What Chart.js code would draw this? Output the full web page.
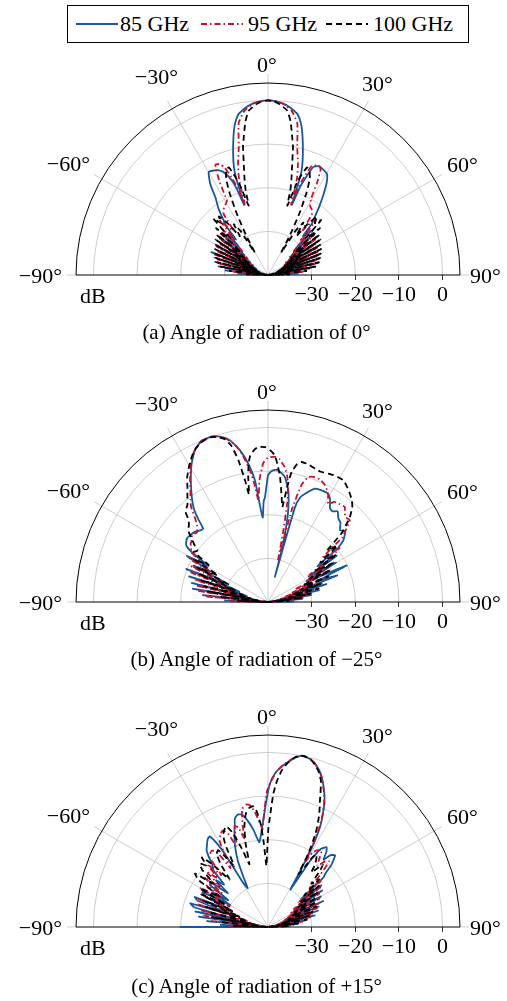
<!DOCTYPE html>
<html>
<head>
<meta charset="utf-8">
<script src="https://cdn.jsdelivr.net/npm/chart.js@4.4.1/dist/chart.umd.min.js"></script>
<style>
  html, body { margin: 0; padding: 0; background: #fff; }
  body { width: 507px; height: 1001px; position: relative; overflow: hidden;
         font-family: "Liberation Serif", "Times New Roman", serif; color: #000; }
  canvas { position: absolute; left: 0; }
  #legend { position: absolute; left: 67px; top: 5px; width: 402px; height: 38px;
            border: 1px solid #000; box-sizing: border-box; }
  #legend svg { position: absolute; left: 0; top: 0; }
  #legend span { position: absolute; top: 5px; font-size: 22px; line-height: 25px; white-space: nowrap; }
  .caption { position: absolute; left: 0; width: 513px; text-align: center;
             font-size: 21px; line-height: 24px; white-space: nowrap; }
</style>
</head>
<body>
<div id="legend"></div>
<canvas id="plotA" width="507" height="300"></canvas>
<canvas id="plotB" width="507" height="300"></canvas>
<canvas id="plotC" width="507" height="300"></canvas>
<div class="caption" id="capA"></div>
<div class="caption" id="capB"></div>
<div class="caption" id="capC"></div>
<script>
// ---- radial axis (dB) and angular axis (degrees) ----
const DB_MIN = -40;   // level at the pole
const DB_RIM = 4;     // level at the outer rim
const dbTicks = [-30, -20, -10, 0];
const angleTicks = [-90, -60, -30, 0, 30, 60, 90];
const seriesNames = ['85 GHz', '95 GHz', '100 GHz'];
const captions = ['(a) Angle of radiation of 0°', '(b) Angle of radiation of −25°', '(c) Angle of radiation of +15°'];

// ---- radiation patterns: [angle in degrees, gain in dB] ----
// (a) steered to 0°
const radA_85 = [[-90,-40],[-88,-33],[-86,-40],[-84,-30],[-82,-40],[-80,-28.5],[-78,-39],[-76,-27.5],[-74,-38],[-72,-27],[-70,-38],[-68,-26],[-66,-37],[-64,-27],[-62,-37],[-60,-26.5],[-58,-36],[-56,-27],[-54,-35],[-52,-26],[-50,-33],[-48,-27],[-46,-31],[-44,-27],[-42,-29],[-40.5,-25],[-39.2,-24],[-36.8,-21.1],[-34.1,-18.5],[-32.4,-15.3],[-30,-12.8],[-27.5,-13],[-24.5,-13.7],[-22.5,-15],[-20.9,-16.9],[-19.8,-19.5],[-18.8,-23],[-18.2,-16.5],[-17.5,-14],[-16,-11],[-14,-7.3],[-12.3,-4.5],[-10.5,-2.6],[-9,-1.9],[-7,-1.1],[-5.3,-0.6],[-3,-0.2],[0,0],[3,-0.2],[5.3,-0.6],[7,-1.1],[9,-1.9],[10.5,-2.6],[12.3,-4.5],[14,-7.3],[16,-11],[17.5,-14],[18.2,-16.5],[18.8,-23],[20,-18.5],[21.5,-15.5],[22.7,-13.2],[25,-12.5],[27.5,-12.7],[30.3,-13.2],[32.5,-15],[34.5,-17.5],[36.5,-20],[38.5,-22.5],[40.5,-24.5],[42,-28],[44,-26],[46,-31],[48,-26.5],[50,-33],[52,-27],[54,-34],[56,-26],[58,-35],[60,-27],[62,-36],[64,-26.5],[66,-37],[68,-27],[70,-37],[72,-27.5],[74,-38],[76,-28],[78,-39],[80,-29],[82,-40],[84,-31],[86,-40],[88,-33],[90,-40]];
const radA_95 = [[-90,-40],[-89,-35],[-87,-40],[-85,-32],[-83,-40],[-81,-30],[-79,-39],[-77,-28.5],[-75,-38],[-73,-28],[-71,-38],[-69,-27],[-67,-37],[-65,-27.5],[-63,-36],[-61,-26.5],[-59,-36],[-57,-27],[-55,-35],[-53,-26],[-51,-34],[-49,-25.5],[-47,-32],[-45,-25],[-43,-29],[-41.5,-23],[-40,-25.5],[-37.8,-27],[-36,-22.7],[-33,-21.5],[-30.5,-21],[-28.9,-20.5],[-27.5,-16],[-25.5,-12],[-23.5,-12.3],[-22,-13.5],[-20.5,-16],[-19.2,-19],[-18.1,-23],[-17.3,-19],[-16.5,-16.4],[-15,-13.5],[-12.9,-10],[-10.9,-4.5],[-8.2,-2],[-5,-0.6],[-2.5,-0.1],[0,0],[2.5,-0.1],[5,-0.6],[8.2,-2],[10.9,-4.5],[12.9,-10],[15,-13.5],[16.5,-16.4],[17.3,-19],[18.1,-23],[19.2,-18.5],[20.5,-15.5],[22,-13],[24.9,-12.4],[26.5,-13],[28,-16],[29.5,-20],[31.5,-21.5],[34,-22],[36,-23],[37.8,-27],[39.5,-24],[41.5,-23.5],[43,-29],[45,-25.5],[47,-32],[49,-26],[51,-34],[53,-26.5],[55,-35],[57,-27],[59,-36],[61,-27],[63,-36],[65,-27.5],[67,-37],[69,-28],[71,-38],[73,-28.5],[75,-38],[77,-29],[79,-39],[81,-30.5],[83,-40],[85,-32],[87,-40],[89,-35],[90,-40]];
const radA_100 = [[-90,-40],[-88,-35],[-86,-40],[-84,-31],[-82,-40],[-80,-29],[-78,-39],[-76,-28],[-74,-38],[-72,-27.5],[-70,-38],[-68,-27],[-66,-37],[-64,-26.5],[-62,-36],[-60,-26],[-58,-35],[-56,-25.5],[-54,-34],[-52,-25],[-50,-32],[-48,-24],[-46,-28],[-44,-22],[-42,-24],[-40,-22.5],[-38,-25],[-36,-29],[-34,-26],[-32,-28],[-30.5,-34],[-29,-30],[-27,-24.3],[-25,-19],[-23.5,-16],[-21.6,-14],[-19.9,-13.8],[-17.5,-18],[-15.6,-23.5],[-14.8,-20],[-13.8,-17.5],[-12.7,-15],[-11,-10],[-10,-8],[-8.4,-4.5],[-6.7,-2.1],[-4,-0.8],[-2,-0.2],[0,0],[2,-0.2],[4,-0.8],[6.7,-2.1],[8.4,-4.5],[10,-8],[11,-10],[12.7,-15],[13.8,-17.5],[14.8,-20],[15.6,-23.5],[17.5,-17.5],[19.9,-13.8],[21.6,-14.2],[23.5,-16],[25,-19],[27,-24],[29,-30],[30.5,-34],[32,-28],[34,-25.5],[36,-29],[38,-25],[40,-22.5],[42,-24],[44,-22.5],[46,-28],[48,-24],[50,-32],[52,-25],[54,-34],[56,-25.5],[58,-35],[60,-26],[62,-36],[64,-26.5],[66,-37],[68,-27],[70,-38],[72,-27.5],[74,-38],[76,-28],[78,-39],[80,-29],[82,-40],[84,-31],[86,-40],[88,-35],[90,-40]];

// (b) steered to -25°
const radB_85 = [[-90,-40],[-88,-30],[-86,-40],[-84,-25],[-82,-38],[-80,-22.5],[-78,-36],[-76,-22],[-74,-35],[-72,-21],[-70,-33],[-68,-19.8],[-66,-30],[-64,-21],[-62,-25],[-60.5,-18.6],[-59,-24],[-57,-19.5],[-55.3,-17.2],[-52,-16.4],[-49.5,-16.5],[-46,-16.8],[-43,-17.5],[-41.5,-17.6],[-40,-15],[-38.4,-12.6],[-36,-10.3],[-32.4,-7],[-28.9,-3.8],[-25.7,-1.4],[-22.3,0],[-18.2,0],[-15.5,-0.8],[-13.2,-2],[-10.5,-4.6],[-8.1,-8],[-6.1,-12],[-5.3,-15.8],[-3.6,-20.6],[-2.5,-17],[-1.6,-15.9],[0,-11],[1.5,-10],[3.7,-9.6],[6,-10.3],[7.7,-11.1],[10.3,-14],[12.1,-17.7],[13.4,-21.5],[14.8,-27.7],[15.3,-34],[15.6,-27],[15.9,-17.4],[17,-15],[18.9,-13.8],[22.5,-11.9],[25.7,-11.6],[29,-11.6],[31,-12.4],[33.6,-14.3],[35.5,-14.5],[37.5,-13.8],[40.2,-15],[42.5,-15.4],[45.1,-16.7],[47.5,-16],[50.7,-17.7],[52.5,-20],[54,-26],[56,-21],[58,-29],[60,-22],[62,-30],[65,-20.1],[67,-27],[69,-23],[71,-34],[73,-26],[75,-36],[77,-28],[79,-38],[81,-30],[83,-40],[85,-32],[87,-40],[89,-34],[90,-40]];
const radB_95 = [[-90,-40],[-89,-31],[-87,-40],[-85,-26],[-83,-37],[-81,-24],[-79,-35],[-77,-23],[-75,-34],[-73,-22.5],[-71,-32],[-69,-21],[-67,-29],[-65,-20.5],[-63,-26],[-61,-19.5],[-59,-22],[-57,-19],[-55,-18.5],[-53,-17.8],[-51,-17.5],[-48.5,-16.8],[-45.5,-17.2],[-43,-16.2],[-41,-14.5],[-39,-12],[-37,-10.5],[-35,-9],[-33,-7.2],[-31,-5.4],[-29,-3.6],[-27,-2.1],[-25,-1],[-23,-0.3],[-20,0],[-17,-0.3],[-14.5,-1.3],[-12,-3],[-10,-5.5],[-7.8,-9.5],[-6.5,-13],[-5.4,-16.6],[-4,-12],[-2,-8.2],[0,-6.9],[2.8,-6.7],[4.5,-7.1],[7,-8.8],[8.5,-10.5],[9.9,-13.3],[11,-17],[12.3,-24],[13.5,-30],[14.5,-18],[16,-12],[17.9,-9.9],[20,-9.5],[23,-9.5],[26,-10.2],[29,-11.6],[31.5,-13.6],[33.5,-12.5],[36,-12.2],[38.9,-12],[42.2,-13.7],[45,-13.5],[47,-15.5],[49,-17.5],[51,-24],[53,-19.5],[55,-23],[57,-29],[59,-23],[61,-30],[63,-24],[65,-33],[67,-26],[69,-34],[71,-27],[73,-36],[75,-29],[77,-37],[79,-30],[81,-38],[83,-32],[85,-40],[87,-34],[89,-40],[90,-40]];
const radB_100 = [[-90,-40],[-88,-33],[-86,-40],[-84,-29],[-82,-38],[-80,-26],[-78,-36],[-76,-25],[-74,-34],[-72,-24],[-70,-32],[-68,-23],[-66,-30],[-64,-22],[-62,-27],[-60,-20.5],[-58,-24],[-56,-19.5],[-54,-20],[-52,-18.5],[-50,-17],[-48,-15.3],[-46,-14.8],[-44,-13.8],[-42.5,-12],[-41,-11.5],[-39.5,-11],[-37,-9.3],[-35,-7.8],[-33,-6],[-31,-4.6],[-29,-3.2],[-27,-2],[-25,-1],[-23,-0.4],[-21,-0.1],[-19,0],[-17,-0.5],[-15,-1.3],[-13.2,-3.2],[-11.8,-6.8],[-10.7,-11.6],[-10,-15],[-9,-11],[-8,-8],[-7,-6.3],[-5,-4.9],[-3.6,-4.4],[-1,-4.5],[1,-5.3],[2.7,-6.4],[4,-8.5],[5.5,-11.2],[7.4,-15.7],[8.6,-18],[9.5,-13],[10.3,-9.7],[12,-7.6],[13.5,-7],[16,-7.1],[19.4,-7.6],[22,-7.8],[25.2,-7.5],[28,-7.2],[31.8,-7.2],[34.5,-8],[37.1,-8.9],[39.5,-9.8],[41.6,-10.9],[44,-13],[45.5,-15],[47,-17],[49,-22],[51,-19.5],[53,-25],[55,-21],[57,-27],[59,-22.5],[61,-29],[63,-24],[65,-31],[67,-25],[69,-32],[71,-27],[73,-34],[75,-28],[77,-35],[79,-30],[81,-37],[83,-32],[85,-40],[87,-35],[89,-40],[90,-40]];

// (c) steered to +15°
const radC_85 = [[-90,-19.8],[-88.8,-40],[-87.5,-29],[-86,-40],[-84.5,-26],[-83,-38],[-81.5,-24],[-80,-36],[-78,-23],[-76.5,-33],[-75,-22.5],[-73,-21.4],[-71.5,-32],[-69.5,-22.8],[-67.7,-21.9],[-66,-31],[-64,-24],[-62,-23],[-60,-30],[-58,-25],[-56,-29],[-54,-23.5],[-52,-23.5],[-50,-28],[-48,-24],[-46,-26],[-44,-22],[-42,-21],[-40,-18.8],[-38.7,-17.5],[-36.5,-16.5],[-34.5,-15.6],[-32.8,-15.3],[-31.3,-17.9],[-30.5,-21],[-29.5,-28],[-27.5,-30],[-26.5,-28],[-24.6,-23.5],[-22,-19.7],[-20,-17.5],[-18,-15.3],[-17,-14],[-15,-13.3],[-13,-13.6],[-10.7,-15.3],[-8.5,-17.5],[-7,-19.5],[-5.8,-20.5],[-4.5,-19],[-2.7,-15.8],[-0.8,-11.2],[0.7,-7.3],[2.6,-4.8],[5,-3],[7,-1.9],[9,-0.8],[11,0],[12.5,-0.1],[14.5,-0.4],[16,-1],[18.4,-2.4],[19.7,-3.5],[21,-4.8],[22.9,-6.8],[24.5,-8.8],[25.4,-10.4],[26.5,-12.2],[27.5,-14.2],[28.5,-17.4],[29.3,-21],[30,-26],[31,-30],[32.5,-22],[34,-18.5],[36.3,-17.3],[38,-18.3],[39.5,-20],[41,-18.2],[43.1,-17.5],[45.5,-19.6],[47,-22],[48.3,-23.1],[50,-30],[52,-24.5],[54,-31],[56,-25],[58,-33],[60,-26],[62,-34],[64.8,-26],[66.5,-35],[68,-27.5],[70,-36],[72,-28],[74,-37],[76,-29],[78,-38],[80,-31],[82,-40],[84,-33],[86,-40],[88,-35],[90,-40]];
const radC_95 = [[-90,-40],[-88,-31],[-86,-40],[-84,-27],[-82,-39],[-80,-25],[-78,-37],[-76,-24],[-74,-35],[-72,-23],[-70,-33],[-68,-22.5],[-66,-31],[-64,-23],[-62,-30],[-60,-22],[-58,-28],[-56,-23],[-54,-27],[-52,-21.5],[-50,-26],[-48,-21],[-46,-24],[-44,-20],[-42,-24],[-40,-19],[-38,-18.5],[-36,-18.3],[-34,-20],[-32.5,-24],[-31,-21],[-29.4,-17.5],[-27,-16],[-25,-15.6],[-23,-17],[-21.5,-20],[-20.3,-19],[-18.3,-15.7],[-16.5,-16.2],[-15,-19],[-14,-16],[-12.4,-12.3],[-10,-11.5],[-8.4,-11.8],[-6.5,-13.5],[-4.5,-16],[-3.2,-17.5],[-2,-14],[-0.5,-9],[1,-6.8],[3,-4.5],[5.5,-2.6],[8,-1.2],[10.5,-0.2],[12.5,0],[14.5,-0.4],[16,-1],[18.4,-2.5],[20,-3.8],[22.5,-6.5],[24.5,-9],[26,-11.5],[27.3,-14.5],[28.5,-18],[29.5,-23],[31,-20],[33,-19],[35,-18.6],[37,-20.5],[39,-22],[41,-20],[43,-19.5],[45,-23],[47,-27],[49,-24],[51,-31],[53,-25],[55,-33],[57,-26],[59,-34],[61,-26.5],[63,-35],[65,-27],[67,-36],[69,-28],[71,-37],[73,-29],[75,-38],[77,-30],[79,-39],[81,-32],[83,-40],[85,-34],[87,-40],[89,-36],[90,-40]];
const radC_100 = [[-90,-40],[-88,-32],[-86,-40],[-84,-29],[-82,-38],[-80,-27],[-78,-36],[-76,-26],[-74,-35],[-72,-25],[-70,-33],[-68,-24],[-66,-31],[-64,-23],[-62,-29],[-60.5,-22],[-58,-27],[-56,-21],[-53.8,-19.3],[-51.5,-24],[-49,-20],[-47,-18.7],[-45,-20],[-43.5,-18],[-41.5,-21],[-39,-26],[-37,-22],[-35,-19.5],[-33,-19],[-31,-21.5],[-29,-24],[-27.5,-19],[-26,-16.5],[-24,-15.5],[-22.5,-15],[-20.5,-17],[-18.5,-21],[-16.5,-25],[-15,-20],[-13,-16],[-11,-13.5],[-9,-12.4],[-7.1,-12.1],[-5.5,-13.5],[-4,-16.5],[-2.8,-21],[-1.5,-26],[-0.5,-22],[0.2,-17.5],[1,-14.8],[2.3,-9.4],[3.5,-6.5],[5,-4],[7,-2],[9,-0.6],[11,0],[13,-0.1],[14.5,-0.5],[16,-1.2],[18,-2.5],[20,-4.5],[22.3,-8.6],[24,-11],[25,-12.5],[27,-16],[28.8,-20.8],[30,-26],[31.5,-24],[32.5,-21],[34,-20],[35.5,-21],[37,-22],[38.5,-24],[40,-22.5],[41.5,-21],[43,-23],[45,-26],[47,-24],[49,-29],[51,-25],[53,-31],[55,-26],[57,-32],[59,-27],[61,-33],[63,-27.5],[65,-34],[67,-28],[69,-35],[71,-29],[73,-36],[75,-30],[77,-37],[79,-31],[81,-38],[83,-33],[85,-40],[87,-35],[89,-40],[90,-40]];

// ---- styling ----
const seriesStyle = [
  { color: '#18589a', dash: [] },
  { color: '#c8102e', dash: [6, 3, 1.5, 3] },
  { color: '#000000', dash: [6, 4] }
];
const FONT = '"Liberation Serif", "Times New Roman", serif';
const LABEL_SIZE = 22;
// where each angular label sits, relative to the pole (pixels)
const angleLabelPlace = [
  { dx: -206, dy: 0, align: 'right' },
  { dx: -178, dy: -112, align: 'right' },
  { dx: -90, dy: -198.5, align: 'right' },
  { dx: -1, dy: -211, align: 'center' },
  { dx: 94, dy: -191.5, align: 'left' },
  { dx: 179, dy: -111, align: 'left' },
  { dx: 202, dy: 0, align: 'left' }
];
const fmtSigned = v => (v < 0 ? '\u2212' : '') + Math.abs(v);
const angleLabels = angleTicks.map(a => fmtSigned(a) + '°');

// polar (angle, dB) -> cartesian on the half-plane
function toXY(series) {
  return series.map(([deg, db]) => {
    const r = Math.max(0, db - DB_MIN);
    const t = deg * Math.PI / 180;
    return { x: r * Math.sin(t), y: r * Math.cos(t) };
  });
}

const polarFrame = {
  id: 'polarFrame',
  beforeDatasetsDraw(chart) {
    const { ctx, scales: { x, y } } = chart;
    const cx = x.getPixelForValue(0), cy = y.getPixelForValue(0);
    const rim = x.getPixelForValue(DB_RIM - DB_MIN) - cx;
    ctx.save();
    ctx.strokeStyle = '#c0c0c0';
    ctx.lineWidth = 0.8;
    dbTicks.forEach(db => {
      const r = x.getPixelForValue(db - DB_MIN) - cx;
      ctx.beginPath();
      ctx.arc(cx, cy, r, Math.PI, 2 * Math.PI);
      ctx.stroke();
    });
    angleTicks.forEach(a => {
      const t = a * Math.PI / 180;
      const r0 = Math.abs(a) === 90 ? rim : 0;
      ctx.beginPath();
      ctx.moveTo(cx + r0 * Math.sin(t), cy - r0 * Math.cos(t));
      ctx.lineTo(cx + (rim + 9) * Math.sin(t), cy - (rim + 9) * Math.cos(t));
      ctx.stroke();
    });
    ctx.strokeStyle = '#000';
    ctx.lineWidth = 1;
    ctx.beginPath();
    ctx.arc(cx, cy, rim, Math.PI, 2 * Math.PI);
    ctx.stroke();
    ctx.beginPath();
    ctx.moveTo(cx - rim, cy);
    ctx.lineTo(cx + rim, cy);
    ctx.stroke();
    ctx.restore();
  },
  afterDraw(chart) {
    const { ctx, scales: { x, y } } = chart;
    const cx = x.getPixelForValue(0), cy = y.getPixelForValue(0);
    ctx.save();
    ctx.fillStyle = '#000';
    ctx.font = LABEL_SIZE + 'px ' + FONT;
    ctx.textBaseline = 'alphabetic';
    angleLabels.forEach((txt, i) => {
      const p = angleLabelPlace[i];
      ctx.textAlign = p.align;
      ctx.fillText(txt, cx + p.dx, cy + p.dy + 7.5);
    });
    ctx.textAlign = 'left';
    ctx.fillText('dB', cx - 188, cy + 27.5);
    ctx.restore();
  }
};

function makePlot(id, series) {
  return new Chart(document.getElementById(id), {
    type: 'scatter',
    data: {
      datasets: series.map((s, i) => ({
        label: seriesNames[i],
        data: toXY(s),
        showLine: true,
        pointRadius: 0,
        pointHoverRadius: 0,
        borderColor: seriesStyle[i].color,
        backgroundColor: seriesStyle[i].color,
        borderWidth: 1.8,
        borderDash: seriesStyle[i].dash,
        tension: 0.15,
        fill: false,
        clip: false,
        order: series.length - 1 - i
      }))
    },
    options: {
      responsive: false,
      devicePixelRatio: 1,
      animation: false,
      events: [],
      layout: { padding: { left: 76, right: 47, top: 58, bottom: 10 } },
      plugins: { legend: { display: false }, tooltip: { enabled: false } },
      scales: {
        x: {
          type: 'linear', min: DB_MIN - DB_RIM, max: DB_RIM - DB_MIN,
          afterBuildTicks: s => { s.ticks = dbTicks.map(d => ({ value: d - DB_MIN })); },
          afterFit: s => { s.height = 40; },
          border: { display: false },
          grid: { drawOnChartArea: false, drawTicks: true, tickLength: 5, color: '#000', lineWidth: 0.8 },
          ticks: {
            autoSkip: false, maxRotation: 0, padding: 2, color: '#000',
            font: { family: FONT, size: LABEL_SIZE },
            callback: v => fmtSigned(v + DB_MIN)
          }
        },
        y: { type: 'linear', min: 0, max: DB_RIM - DB_MIN, display: false }
      }
    },
    plugins: [polarFrame]
  });
}

// page layout: pole heights of the three panels and caption centres
const poleY = [275, 601.5, 927.3];
const captionY = [332, 659, 986];
['plotA', 'plotB', 'plotC'].forEach((id, i) => {
  document.getElementById(id).style.top = (poleY[i] - 250) + 'px';
});
['capA', 'capB', 'capC'].forEach((id, i) => {
  const el = document.getElementById(id);
  el.textContent = captions[i];
  el.style.top = (captionY[i] - 12) + 'px';
});

makePlot('plotA', [radA_85, radA_95, radA_100]);
makePlot('plotB', [radB_85, radB_95, radB_100]);
makePlot('plotC', [radC_85, radC_95, radC_100]);

// legend
(function buildLegend() {
  const box = document.getElementById('legend');
  const lineX = [8, 133, 258];
  const textX = [52, 180, 305];
  const ns = 'http://www.w3.org/2000/svg';
  const svg = document.createElementNS(ns, 'svg');
  svg.setAttribute('width', '400');
  svg.setAttribute('height', '36');
  seriesNames.forEach((name, i) => {
    const ln = document.createElementNS(ns, 'line');
    ln.setAttribute('x1', lineX[i]);
    ln.setAttribute('x2', lineX[i] + 42);
    ln.setAttribute('y1', 18);
    ln.setAttribute('y2', 18);
    ln.setAttribute('stroke', seriesStyle[i].color);
    ln.setAttribute('stroke-width', 1.8);
    if (seriesStyle[i].dash.length) ln.setAttribute('stroke-dasharray', seriesStyle[i].dash.join(' '));
    svg.appendChild(ln);
    const sp = document.createElement('span');
    sp.textContent = name;
    sp.style.left = textX[i] + 'px';
    box.appendChild(sp);
  });
  box.insertBefore(svg, box.firstChild);
})();
</script>
</body>
</html>
